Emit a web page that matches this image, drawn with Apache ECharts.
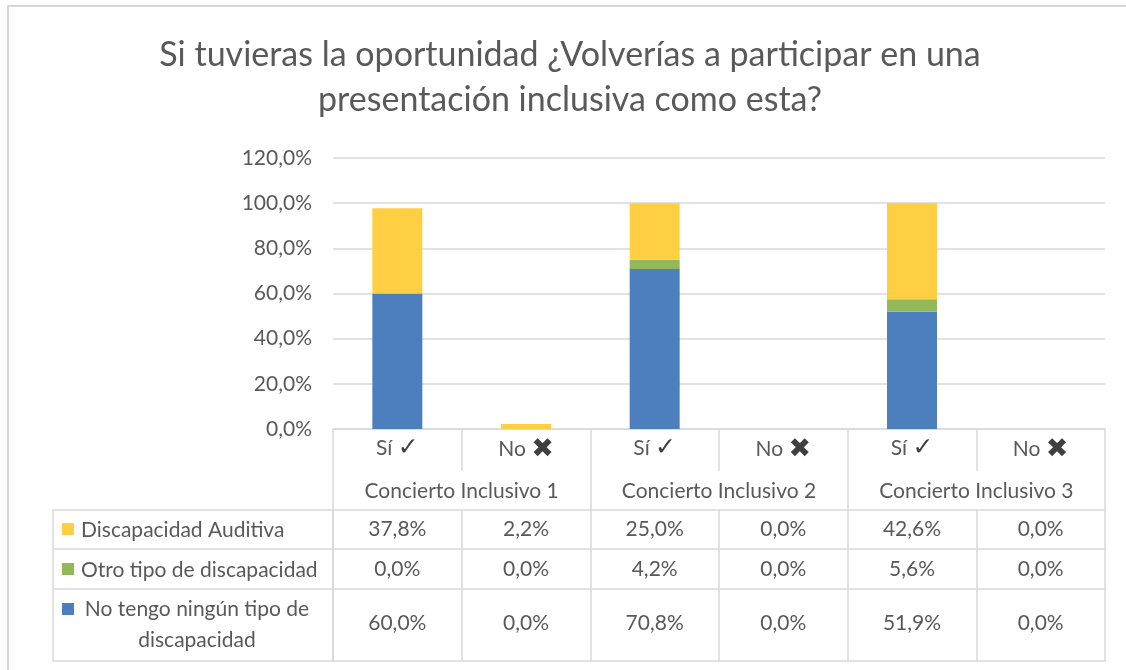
<!DOCTYPE html>
<html>
<head>
<meta charset="utf-8">
<script src="https://cdn.jsdelivr.net/npm/echarts@6/dist/echarts.min.js"></script>
<style>
  html, body { margin: 0; padding: 0; background: #fff; }
  #chart { width: 1126px; height: 670px; }
</style>
</head>
<body>
<div id="chart"></div>
<script>
// datos de la encuesta
const categories = ['Sí|✓', 'No|✖', 'Sí|✓', 'No|✖', 'Sí|✓', 'No|✖'];
const groups = ['Concierto Inclusivo 1', 'Concierto Inclusivo 2', 'Concierto Inclusivo 3'];
const auditiva = [37.8, 2.2, 25.0, 0.0, 42.6, 0.0];
const otro = [0.0, 0.0, 4.2, 0.0, 5.6, 0.0];
const ninguno = [60.0, 0.0, 70.8, 0.0, 51.9, 0.0];
const seriesNames = ['Discapacidad Auditiva', 'Otro tipo de discapacidad', 'No tengo ningún tipo de\ndiscapacidad'];
const titleText = 'Si tuvieras la oportunidad ¿Volverías a participar en una\npresentación inclusiva como esta?';

const colors = {blue: '#4d7ebd', green: '#93b85a', yellow: '#fecf43'};
const txt = '#595959';
const line = '#d9d9d9';
const font = 'Lato, "Open Sans", sans-serif';

// layout de la tabla
const gridLeft = 333, gridRight = 1105, axisY = 429;
const tableLeft = 53;
const headH = 42;
const rowTops = [510, 549, 589, 661];
const rowMargins = [9, 10, 24];

const fmt = v => v.toFixed(1).replace('.', ',') + '%';

let chart = echarts.init(document.getElementById('chart'));

const rowAxis = (data, idx) => ({
  type: 'category',
  data: categories,
  position: 'bottom',
  offset: rowTops[idx] - axisY,
  axisLine: {show: true, lineStyle: {color: line, width: 1.5}},
  axisTick: {show: true, interval: 0, length: rowTops[idx + 1] - rowTops[idx], lineStyle: {color: line, width: 1.5}},
  axisLabel: {
    interval: 0,
    margin: rowMargins[idx],
    color: txt, fontSize: 21, fontFamily: font,
    formatter: (val, i) => fmt(data[i])
  }
});

let option = {
  animation: false,
  grid: {left: gridLeft, right: 1126 - gridRight, top: 158, bottom: 670 - axisY},
  xAxis: [
    {
      type: 'category',
      data: categories,
      axisLine: {show: true, lineStyle: {color: line, width: 1.5}},
      axisTick: {show: true, interval: 0, length: headH, lineStyle: {color: line, width: 1.5}},
      axisLabel: {
        interval: 0, margin: 7,
        formatter: v => {
          const p = v.split('|');
          return p[0] + ' {' + (p[0] === 'Sí' ? 'c' : 'x') + '|' + p[1] + '}';
        },
        color: txt, fontSize: 21, fontFamily: font,
        rich: {
          c: {fontSize: 25, color: '#3f3f3f', fontFamily: 'DejaVu Sans'},
          x: {fontSize: 27, color: '#3f3f3f', fontFamily: 'DejaVu Sans'}
        }
      }
    },
    {
      type: 'category',
      data: groups,
      position: 'bottom',
      offset: headH,
      axisLine: {show: false},
      axisTick: {show: true, interval: 0, length: rowTops[0] - axisY - headH, lineStyle: {color: line, width: 1.5}},
      axisLabel: {interval: 0, margin: 10, color: txt, fontSize: 21, fontFamily: font}
    },
    rowAxis(auditiva, 0),
    rowAxis(otro, 1),
    rowAxis(ninguno, 2),
    {
      type: 'category',
      data: categories,
      position: 'bottom',
      offset: rowTops[3] - axisY,
      axisLine: {show: true, lineStyle: {color: line, width: 1.5}},
      axisTick: {show: false},
      axisLabel: {show: false}
    }
  ],
  yAxis: {
    type: 'value',
    min: 0, max: 120, interval: 20,
    axisLine: {show: false},
    axisTick: {show: false},
    axisLabel: {margin: 21, color: txt, fontSize: 21, fontFamily: font, formatter: v => fmt(v)},
    splitLine: {lineStyle: {color: line, width: 1.5}}
  },
  series: [
    {name: seriesNames[2], type: 'bar', stack: 'total', barWidth: 50, data: ninguno, itemStyle: {color: colors.blue}},
    {name: seriesNames[1], type: 'bar', stack: 'total', barWidth: 50, data: otro, itemStyle: {color: colors.green}},
    {name: seriesNames[0], type: 'bar', stack: 'total', barWidth: 50, data: auditiva, itemStyle: {color: colors.yellow}}
  ],
  graphic: [
    // marco del grafico
    {type: 'rect', shape: {x: 8, y: 6, width: 1130, height: 680}, style: {fill: null, stroke: '#d6d6d6', lineWidth: 2}, silent: true},
    {type: 'text', x: 570, y: 33, style: {text: titleText, fill: txt, font: '34px ' + font, textAlign: 'center', lineHeight: 45}},
    // columna de la leyenda
    {type: 'rect', shape: {x: tableLeft, y: rowTops[0], width: gridLeft - tableLeft, height: rowTops[3] - rowTops[0]}, style: {fill: null, stroke: line, lineWidth: 1.5}},
    {type: 'line', shape: {x1: tableLeft, y1: rowTops[1], x2: gridLeft, y2: rowTops[1]}, style: {stroke: line, lineWidth: 1.5}},
    {type: 'line', shape: {x1: tableLeft, y1: rowTops[2], x2: gridLeft, y2: rowTops[2]}, style: {stroke: line, lineWidth: 1.5}},
    {type: 'rect', shape: {x: 62, y: 523, width: 12, height: 12}, style: {fill: colors.yellow}},
    {type: 'rect', shape: {x: 62, y: 563, width: 12, height: 12}, style: {fill: colors.green}},
    {type: 'rect', shape: {x: 62, y: 603, width: 12, height: 12}, style: {fill: colors.blue}},
    {type: 'text', x: 81, y: 530, style: {text: seriesNames[0], fill: txt, font: '21px ' + font, verticalAlign: 'middle'}},
    {type: 'text', x: 81, y: 570, style: {text: seriesNames[1], fill: txt, font: '21px ' + font, verticalAlign: 'middle'}},
    {type: 'text', x: 197, y: 625, style: {text: seriesNames[2], fill: txt, font: '21px ' + font, verticalAlign: 'middle', textAlign: 'center', lineHeight: 31}}
  ]
};

chart.setOption(option);
</script>
</body>
</html>
